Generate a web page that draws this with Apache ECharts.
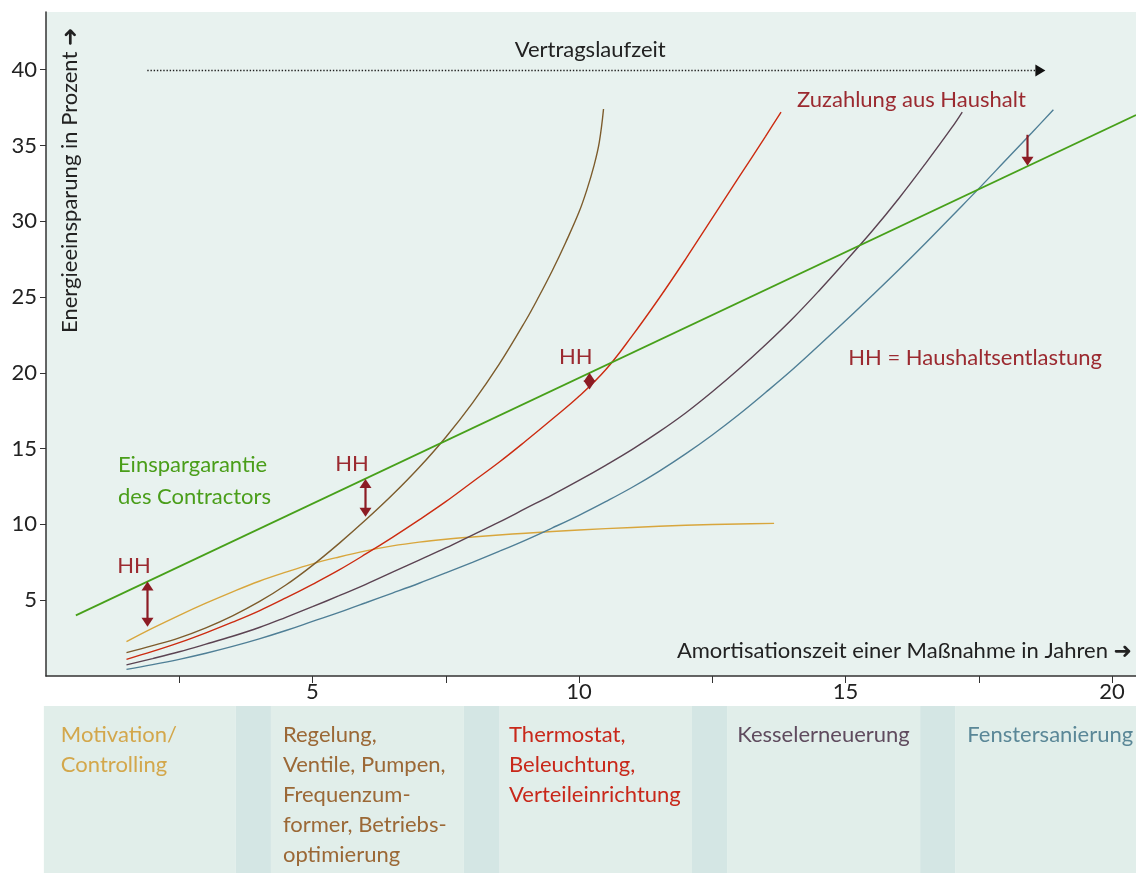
<!DOCTYPE html>
<html><head><meta charset="utf-8">
<script src="https://cdn.jsdelivr.net/npm/echarts@6/dist/echarts.min.js"></script>
<style>html,body{margin:0;padding:0;background:#fff}#c{width:1136px;height:873px}</style>
</head><body><div id="c"></div>
<script>
// ---------- data ----------
const xTicks = [2.5, 5, 7.5, 10, 12.5, 15, 17.5, 20];
const xTickLabels = [5, 10, 15, 20];
const yTickLabels = [5, 10, 15, 20, 25, 30, 35, 40];

const einspargarantie = [[0.56, 4.0], [20.45, 37.0]];
const motivation = [[1.51,2.26],[2.0,3.15],[2.5,4.0],[3.0,4.8],[3.5,5.55],[4.0,6.25],[4.5,6.85],[5.0,7.4],[5.5,7.85],[6.0,8.25],[6.5,8.58],[7.0,8.83],[7.5,9.02],[8.0,9.17],[8.5,9.3],[9.0,9.42],[10.0,9.63],[11.0,9.8],[12.0,9.94],[13.0,10.03],[13.66,10.07]];
const regelung = [[1.51,1.54],[2.0,2.0],[2.5,2.52],[3.0,3.18],[3.5,3.97],[4.0,4.9],[4.5,6.0],[5.0,7.3],[5.5,8.75],[6.0,10.3],[6.5,11.95],[7.0,13.75],[7.5,15.75],[8.0,18.0],[8.5,20.55],[9.0,23.45],[9.25,25.05],[9.5,26.75],[9.75,28.6],[10.0,30.6],[10.15,32.1],[10.28,33.65],[10.38,35.2],[10.46,37.4]];
const thermostat = [[1.51,1.10],[2.0,1.62],[2.5,2.2],[3.0,2.85],[3.5,3.55],[4.0,4.3],[4.5,5.15],[5.0,6.05],[5.5,7.0],[6.0,8.05],[6.5,9.15],[7.0,10.3],[7.5,11.5],[8.0,12.8],[8.5,14.1],[9.0,15.5],[9.5,16.95],[10.0,18.45],[10.5,20.2],[11.0,22.45],[11.5,24.9],[12.0,27.5],[12.5,30.2],[13.0,32.9],[13.5,35.6],[13.79,37.2]];
const kessel = [[1.51,0.73],[2.0,1.15],[2.5,1.6],[3.0,2.1],[3.5,2.62],[4.0,3.2],[4.5,3.87],[5.0,4.57],[5.5,5.3],[6.0,6.05],[6.5,6.85],[7.0,7.65],[7.5,8.45],[8.0,9.3],[8.5,10.15],[9.0,11.05],[9.5,11.95],[10.0,12.9],[10.5,13.9],[11.0,14.95],[11.5,16.1],[12.0,17.35],[12.5,18.75],[13.0,20.25],[13.5,21.85],[14.0,23.55],[14.5,25.4],[15.0,27.35],[15.5,29.35],[16.0,31.5],[16.5,33.8],[17.0,36.2],[17.19,37.2]];
const fenster = [[1.51,0.44],[2.0,0.75],[2.5,1.1],[3.0,1.5],[3.5,1.95],[4.0,2.45],[4.5,3.0],[5.0,3.6],[5.5,4.2],[6.0,4.83],[6.5,5.47],[7.0,6.12],[7.5,6.8],[8.0,7.5],[8.5,8.22],[9.0,8.97],[9.5,9.77],[10.0,10.6],[10.5,11.5],[11.0,12.45],[11.5,13.5],[12.0,14.65],[12.5,15.9],[13.0,17.25],[13.5,18.7],[14.0,20.2],[14.5,21.8],[15.0,23.43],[15.5,25.1],[16.0,26.8],[16.5,28.55],[17.0,30.35],[17.5,32.15],[18.0,34.0],[18.5,35.85],[18.9,37.35]];

// household relief arrows: [x, top, bottom]
const hhArrows = [[1.89, 6.23, 3.25], [5.98, 13.0, 10.5], [10.18, 20.0, 18.9]];
const zuzahlungArrow = [[18.41, 35.7, 33.65]];
const vertragslaufzeit = [[1.9, 40], [18.75, 40]];

const categories = ['Motivation/\nControlling', 'Regelung,\nVentile, Pumpen,\nFrequenzum-\nformer, Betriebs-\noptimierung', 'Thermostat,\nBeleuchtung,\nVerteileinrichtung', 'Kesselerneuerung', 'Fenstersanierung'];
const catStart = [-0.04, 4.22, 8.50, 12.78, 17.06];
const catEnd = [3.56, 7.84, 12.12, 16.40, 20.45];
const gapStart = [3.56, 7.84, 12.12, 16.40];
const gapEnd = [4.22, 8.50, 12.78, 17.06];

const notes = [
  ['Vertragslaufzeit', 10.21, 41.3],
  ['Zuzahlung aus Haushalt', 14.09, 38.0],
  ['HH = Haushaltsentlastung', 15.05, 20.98],
  ['Einspargarantie\ndes Contractors', 1.35, 12.86],
  ['HH', 1.65, 7.26],
  ['HH', 5.74, 13.98],
  ['HH', 9.94, 21.04]
];

// ---------- styles ----------
const FONT = 'Lato, "Open Sans", "DejaVu Sans", sans-serif';
const FS = 22;
const TXT = '#222222';
const HHRED = '#9b2a30';
const ARROW = '#8c1c24';
const noteStyle = [
  {color: TXT, align: 'center'},
  {color: HHRED, align: 'left'},
  {color: HHRED, align: 'left'},
  {color: '#4a9e1a', align: 'left'},
  {color: HHRED, align: 'center'},
  {color: HHRED, align: 'center'},
  {color: HHRED, align: 'center'}
];
const catColors = ['#d3a74b', '#9b6836', '#c8281a', '#5f4b5e', '#5a8797'];
const catPad = [17, 12, 10, 10, 12];

const chart = echarts.init(document.getElementById('c'), null, {renderer: 'canvas'});

function lineSeries(name, data, color, width) {
  return {
    name, type: 'line', data, xAxisIndex: 0, yAxisIndex: 0,
    showSymbol: false, symbol: 'none', smooth: 0.4,
    lineStyle: {color, width: width || 1.4}, z: 3, silent: true
  };
}

function arrowItem(params, api, data, bothHeads) {
  const d = data[params.dataIndex];
  const p1 = api.coord([d[0], d[1]]);
  const p2 = api.coord([d[0], d[2]]);
  const h = 9, w = 6;
  const x = Math.round(p1[0]) + 0.5;
  const children = [];
  const y1 = bothHeads ? p1[1] + h - 1 : p1[1];
  const y2 = p2[1] - h + 1;
  children.push({type: 'line', shape: {x1: x, y1: y1, x2: x, y2: y2}, style: {stroke: ARROW, lineWidth: 2.2}});
  if (bothHeads) {
    children.push({type: 'polygon', shape: {points: [[x, p1[1]], [x - w, p1[1] + h], [x + w, p1[1] + h]]}, style: {fill: ARROW}});
  }
  children.push({type: 'polygon', shape: {points: [[x, p2[1]], [x - w, p2[1] - h], [x + w, p2[1] - h]]}, style: {fill: ARROW}});
  return {type: 'group', children};
}

const option = {
  animation: false,
  backgroundColor: '#ffffff',
  grid: [
    {left: 46, right: 0, top: 12, bottom: 197, show: true, backgroundColor: '#e8f2ef', borderWidth: 0, containLabel: false},
    {left: 46, right: 0, top: 706, bottom: 0, show: false, containLabel: false}
  ],
  xAxis: [
    {
      type: 'value', gridIndex: 0, min: 0, max: 20.45, interval: 2.5,
      axisLine: {show: true, onZero: false, lineStyle: {color: '#333', width: 1.5}},
      axisTick: {show: true, length: 7, customValues: xTicks, lineStyle: {color: '#333', width: 1}},
      axisLabel: {show: true, customValues: xTickLabels, fontSize: FS, fontFamily: FONT, color: TXT, margin: 5,
        formatter: v => (v > 0 && v % 5 === 0) ? String(v) : ''},
      splitLine: {show: false}
    },
    {type: 'value', gridIndex: 1, min: 0, max: 20.45, show: false}
  ],
  yAxis: [
    {
      type: 'value', gridIndex: 0, min: 0, max: 43.8, interval: 5,
      axisLine: {show: true, onZero: false, lineStyle: {color: '#333', width: 1.5}},
      axisTick: {show: true, length: 6, customValues: yTickLabels, lineStyle: {color: '#333', width: 1}},
      axisLabel: {show: true, customValues: yTickLabels, fontSize: FS, fontFamily: FONT, color: TXT, margin: 9,
        formatter: v => (v > 0 && v % 5 === 0) ? String(v) : ''},
      splitLine: {show: false}
    },
    {type: 'value', gridIndex: 1, min: 0, max: 1, show: false}
  ],
  graphic: [
    {type: 'text', x: 70, y: 333, rotation: Math.PI / 2,
      style: {text: 'Energieeinsparung in Prozent ➜', fill: TXT, fontSize: FS, fontFamily: FONT, align: 'left', verticalAlign: 'middle'}},
    {type: 'text', x: 1132, y: 651,
      style: {text: 'Amortisationszeit einer Maßnahme in Jahren ➜', fill: TXT, fontSize: FS, fontFamily: FONT, align: 'right', verticalAlign: 'middle'}}
  ],
  series: [
    // bottom category panel
    {
      type: 'custom', xAxisIndex: 1, yAxisIndex: 1, clip: false, silent: true,
      data: catStart.map((s, i) => [s, catEnd[i]]),
      renderItem: (params, api) => {
        const i = params.dataIndex;
        const p0 = api.coord([catStart[i], 1]);
        const p1 = api.coord([catEnd[i], 0]);
        return {type: 'group', children: [
          {type: 'rect', shape: {x: p0[0], y: p0[1], width: p1[0] - p0[0], height: p1[1] - p0[1]}, style: {fill: '#e1eeea'}},
          {type: 'text', style: {text: categories[i], x: p0[0] + catPad[i], y: p0[1] + 14, fill: catColors[i],
            fontSize: FS, fontFamily: FONT, lineHeight: 30, align: 'left', verticalAlign: 'top'}}
        ]};
      }
    },
    {
      type: 'custom', xAxisIndex: 1, yAxisIndex: 1, clip: false, silent: true,
      data: gapStart.map((s, i) => [s, gapEnd[i]]),
      renderItem: (params, api) => {
        const i = params.dataIndex;
        const p0 = api.coord([gapStart[i], 1]);
        const p1 = api.coord([gapEnd[i], 0]);
        return {type: 'rect', shape: {x: p0[0], y: p0[1], width: p1[0] - p0[0], height: p1[1] - p0[1]}, style: {fill: '#d4e6e4'}};
      }
    },
    // curves
    lineSeries('Motivation/Controlling', motivation, '#d8a63c'),
    lineSeries('Regelung', regelung, '#7d5c2c'),
    lineSeries('Thermostat', thermostat, '#cc2b10'),
    lineSeries('Kesselerneuerung', kessel, '#5b4352'),
    lineSeries('Fenstersanierung', fenster, '#4f7f96'),
    {name: 'Einspargarantie', type: 'line', data: einspargarantie, showSymbol: false, symbol: 'none',
      lineStyle: {color: '#47a01a', width: 1.7}, z: 4, silent: true},
    // contract duration dotted arrow
    {
      type: 'custom', xAxisIndex: 0, yAxisIndex: 0, clip: false, silent: true, z: 5,
      data: [vertragslaufzeit[0].concat(vertragslaufzeit[1])],
      renderItem: (params, api) => {
        const a = api.coord(vertragslaufzeit[0]);
        const b = api.coord(vertragslaufzeit[1]);
        const y = Math.round(a[1]) + 0.5;
        return {type: 'group', children: [
          {type: 'line', shape: {x1: a[0], y1: y, x2: b[0] - 9, y2: y}, style: {stroke: '#222', lineWidth: 1.6, lineDash: [1.4, 1.8]}},
          {type: 'polygon', shape: {points: [[b[0], y], [b[0] - 10, y - 6], [b[0] - 10, y + 6]]}, style: {fill: '#111'}}
        ]};
      }
    },
    // HH arrows
    {
      type: 'custom', xAxisIndex: 0, yAxisIndex: 0, clip: false, silent: true, z: 6,
      data: hhArrows, renderItem: (p, api) => arrowItem(p, api, hhArrows, true)
    },
    {
      type: 'custom', xAxisIndex: 0, yAxisIndex: 0, clip: false, silent: true, z: 6,
      data: zuzahlungArrow, renderItem: (p, api) => arrowItem(p, api, zuzahlungArrow, false)
    },
    // annotation texts
    {
      type: 'custom', xAxisIndex: 0, yAxisIndex: 0, clip: false, silent: true, z: 7,
      data: notes.map(n => [n[1], n[2]]),
      renderItem: (params, api) => {
        const i = params.dataIndex;
        const p = api.coord([notes[i][1], notes[i][2]]);
        return {type: 'text', style: {text: notes[i][0], x: p[0], y: p[1], fill: noteStyle[i].color,
          fontSize: FS, fontFamily: FONT, lineHeight: 32, align: noteStyle[i].align, verticalAlign: 'middle'}};
      }
    }
  ]
};
chart.setOption(option);
</script>
</body></html>
